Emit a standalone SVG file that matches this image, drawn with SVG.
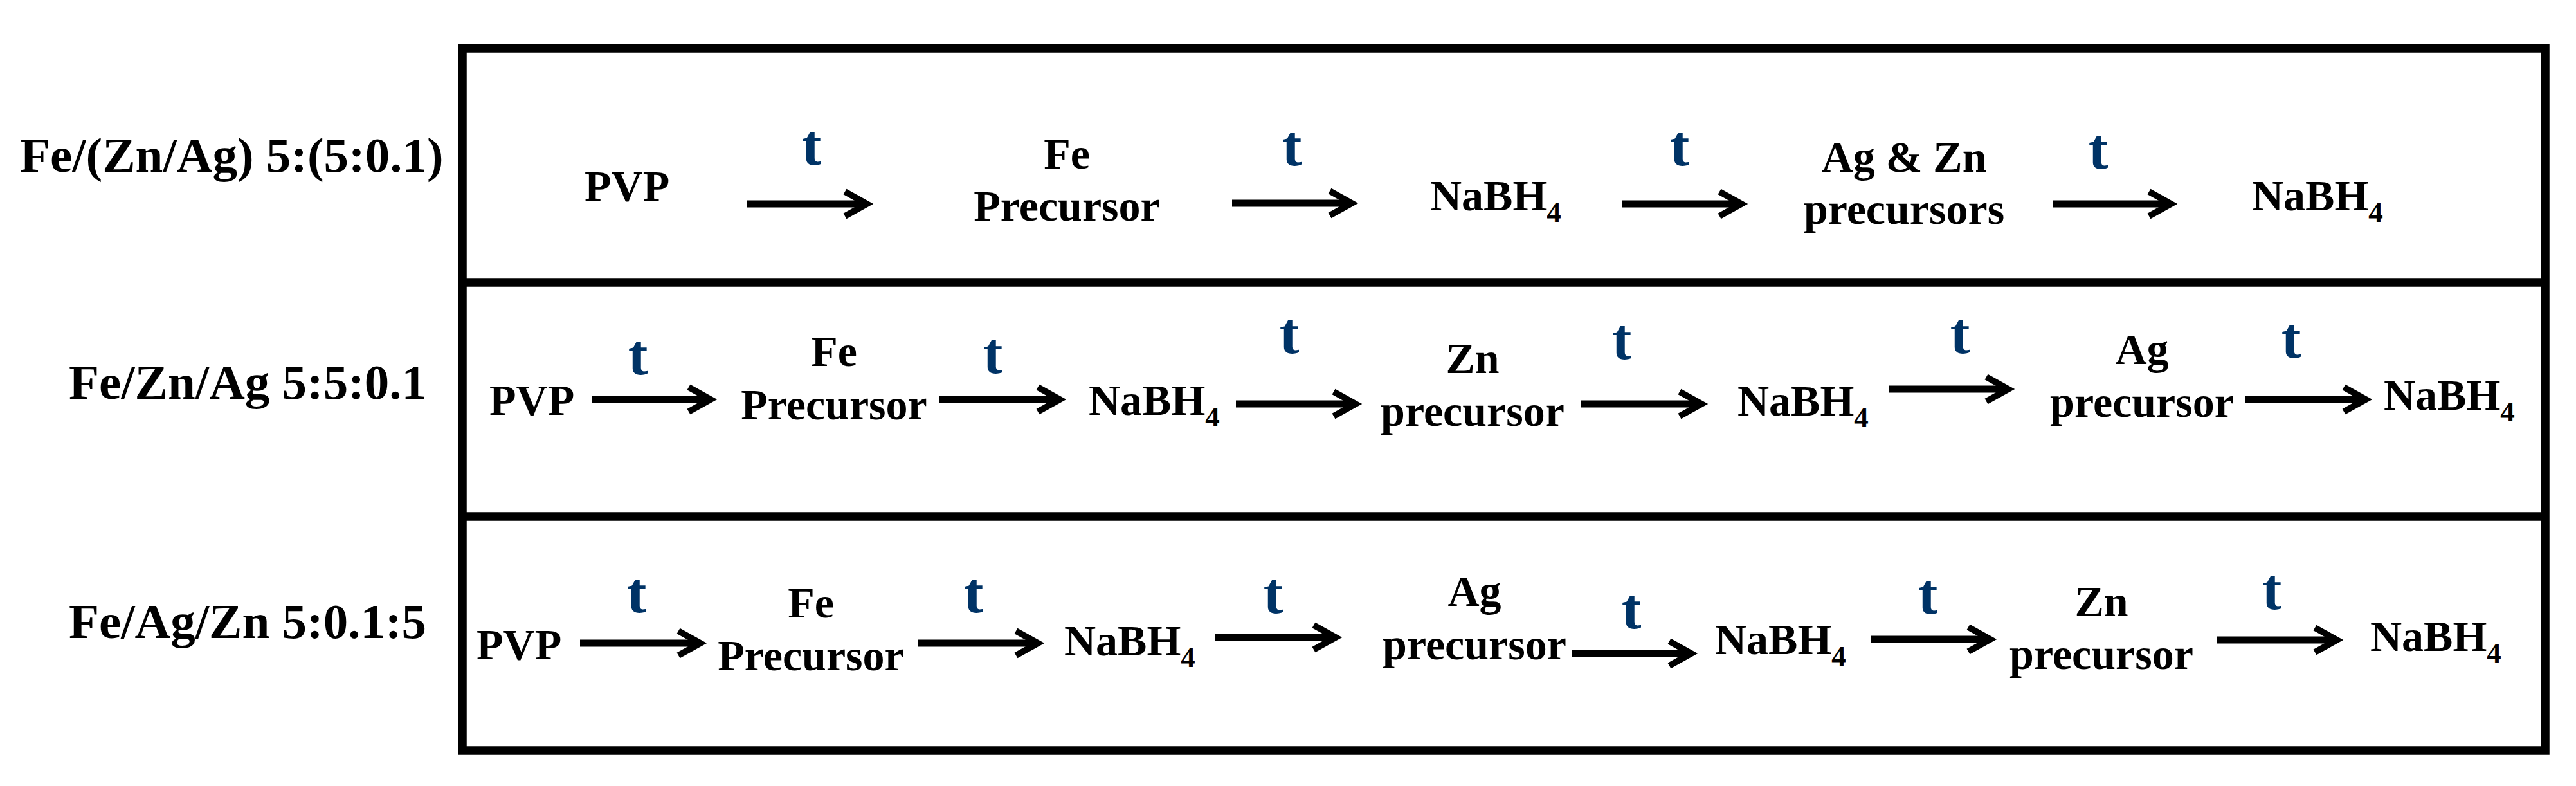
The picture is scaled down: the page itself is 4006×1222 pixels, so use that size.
<svg xmlns="http://www.w3.org/2000/svg" width="4006" height="1222" viewBox="0 0 4006 1222">
<style>
text{font-family:"Liberation Serif","Times New Roman",serif;font-weight:bold;fill:#000}
.lbl{font-size:77px}
.n{font-size:68px}
.c{text-anchor:middle}
.sub{font-size:45px}
.t{font-size:92px;fill:#003366;text-anchor:middle}
.frame{fill:none;stroke:#000;stroke-width:13.5}
.arr{fill:none;stroke:#000;stroke-width:11;marker-end:url(#head)}
</style>
<defs>
<marker id="head" viewBox="-45 -30 60 60" markerWidth="60" markerHeight="60" refX="0" refY="0" orient="auto" markerUnits="userSpaceOnUse" overflow="visible">
<path d="M-31,-19 L3,0 L-31,19" fill="none" stroke="#000" stroke-width="10" stroke-linejoin="miter" stroke-miterlimit="10"/>
</marker>
</defs>
<rect width="4006" height="1222" fill="#fff"/>
<g id="frame">
<rect class="frame" x="719" y="75" width="3239" height="1092"/>
<line class="frame" x1="719" y1="439" x2="3958" y2="439"/>
<line class="frame" x1="719" y1="803" x2="3958" y2="803"/>
</g>
<g id="labels">
<text id="label-row1" class="lbl" x="31" y="267">Fe/(Zn/Ag) 5:(5:0.1)</text>
<text id="label-row2" class="lbl" x="107" y="620">Fe/Zn/Ag 5:5:0.1</text>
<text id="label-row3" class="lbl" x="107" y="992">Fe/Ag/Zn 5:0.1:5</text>
</g>
<g id="connectors">
<path class="arr" d="M1161,317 H1345"/>
<path class="arr" d="M1916,316 H2099"/>
<path class="arr" d="M2523,317 H2705"/>
<path class="arr" d="M3193,317 H3373"/>
<path class="arr" d="M920,621 H1102"/>
<path class="arr" d="M1461,621 H1645"/>
<path class="arr" d="M1922,628 H2105"/>
<path class="arr" d="M2459,628 H2643"/>
<path class="arr" d="M2938,605 H3120"/>
<path class="arr" d="M3492,621 H3676"/>
<path class="arr" d="M902,1000 H1086"/>
<path class="arr" d="M1428,1000 H1611"/>
<path class="arr" d="M1889,991 H2074"/>
<path class="arr" d="M2445,1016 H2627"/>
<path class="arr" d="M2910,994 H3092"/>
<path class="arr" d="M3448,995 H3631"/>
<text class="t" x="1262" y="256">t</text>
<text class="t" x="2009" y="257">t</text>
<text class="t" x="2612" y="257">t</text>
<text class="t" x="3263" y="262">t</text>
<text class="t" x="992" y="582">t</text>
<text class="t" x="1544" y="580">t</text>
<text class="t" x="2005" y="549">t</text>
<text class="t" x="2522" y="558">t</text>
<text class="t" x="3048" y="549">t</text>
<text class="t" x="3563" y="556">t</text>
<text class="t" x="990" y="952">t</text>
<text class="t" x="1514" y="952">t</text>
<text class="t" x="1980" y="953">t</text>
<text class="t" x="2537" y="977">t</text>
<text class="t" x="2998" y="954">t</text>
<text class="t" x="3533" y="947">t</text>
</g>
<g id="r1-pvp"><text class="n" x="909" y="312">PVP</text></g>
<g id="r1-fe"><text class="n c" x="1659" y="262">Fe</text><text class="n c" x="1659" y="343">Precursor</text></g>
<g id="r1-nabh4-a"><text class="n" x="2224" y="327">NaBH<tspan class="sub" dy="18">4</tspan></text></g>
<g id="r1-agzn"><text class="n c" x="2961" y="267">Ag &amp; Zn</text><text class="n c" x="2961" y="348">precursors</text></g>
<g id="r1-nabh4-b"><text class="n" x="3502" y="327">NaBH<tspan class="sub" dy="18">4</tspan></text></g>
<g id="r2-pvp"><text class="n" x="761" y="645">PVP</text></g>
<g id="r2-fe"><text class="n c" x="1297" y="569">Fe</text><text class="n c" x="1297" y="652">Precursor</text></g>
<g id="r2-nabh4-a"><text class="n" x="1693" y="645">NaBH<tspan class="sub" dy="18">4</tspan></text></g>
<g id="r2-zn"><text class="n c" x="2290" y="580">Zn</text><text class="n c" x="2290" y="662">precursor</text></g>
<g id="r2-nabh4-b"><text class="n" x="2702" y="646">NaBH<tspan class="sub" dy="18">4</tspan></text></g>
<g id="r2-ag"><text class="n c" x="3331" y="566">Ag</text><text class="n c" x="3331" y="648">precursor</text></g>
<g id="r2-nabh4-c"><text class="n" x="3707" y="637">NaBH<tspan class="sub" dy="18">4</tspan></text></g>
<g id="r3-pvp"><text class="n" x="741" y="1025">PVP</text></g>
<g id="r3-fe"><text class="n c" x="1261" y="960">Fe</text><text class="n c" x="1261" y="1042">Precursor</text></g>
<g id="r3-nabh4-a"><text class="n" x="1655" y="1019">NaBH<tspan class="sub" dy="18">4</tspan></text></g>
<g id="r3-ag"><text class="n c" x="2293" y="942">Ag</text><text class="n c" x="2293" y="1025">precursor</text></g>
<g id="r3-nabh4-b"><text class="n" x="2667" y="1017">NaBH<tspan class="sub" dy="18">4</tspan></text></g>
<g id="r3-zn"><text class="n c" x="3268" y="958">Zn</text><text class="n c" x="3268" y="1040">precursor</text></g>
<g id="r3-nabh4-c"><text class="n" x="3686" y="1012">NaBH<tspan class="sub" dy="18">4</tspan></text></g>
</svg>
